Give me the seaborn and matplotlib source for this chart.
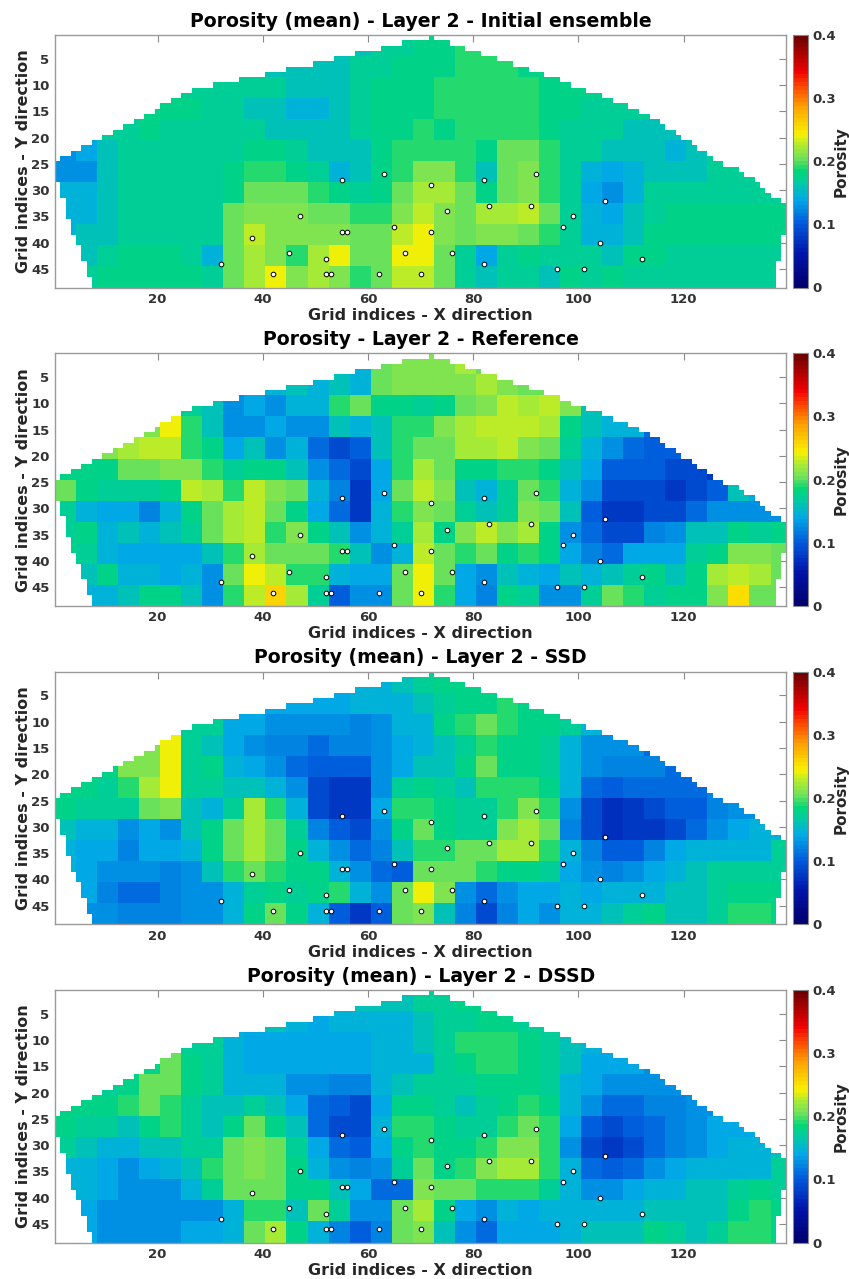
import numpy as np
import pandas as pd
import seaborn as sns
import matplotlib.pyplot as plt
from matplotlib.colors import LinearSegmentedColormap

# porosity x 100, one value per block of 4x4 grid cells (0 = outside the field)
initial = [
 [0,0,0,0,0,0,0,0,0,0,0,0,0,0,16,17,17,18,18,19,19,0,0,0,0,0,0,0,0,0,0,0,0,0,0],
 [0,0,0,0,0,0,0,0,0,0,16,16,16,16,17,17,18,18,18,19,19,19,18,18,0,0,0,0,0,0,0,0,0,0,0],
 [0,0,0,0,0,0,17,17,17,17,17,16,16,16,17,18,18,18,19,19,19,19,19,18,18,18,0,0,0,0,0,0,0,0,0],
 [0,0,0,0,18,18,18,17,17,16,16,15,15,16,17,18,18,18,19,19,19,19,19,18,18,17,17,17,17,0,0,0,0,0,0],
 [0,0,17,17,18,17,17,17,17,17,16,16,16,16,17,18,18,19,18,19,19,19,19,18,17,17,17,16,16,16,0,0,0,0,0],
 [13,14,16,17,17,17,17,17,17,18,18,17,16,16,16,18,19,19,19,19,18,20,20,19,17,17,16,16,16,15,16,17,0,0,0],
 [13,13,16,17,17,17,17,17,18,19,19,18,17,15,16,18,19,21,21,19,16,20,21,19,17,15,14,15,16,16,16,17,17,17,0],
 [15,15,16,17,17,17,17,17,18,20,20,20,19,18,17,18,20,22,22,20,18,20,21,19,17,14,13,15,17,17,17,17,17,17,17],
 [15,15,16,17,17,17,17,17,20,21,21,21,20,20,19,19,21,23,21,20,22,22,23,20,17,15,14,16,17,18,18,18,18,18,18],
 [15,16,16,17,17,17,17,17,20,23,21,21,21,21,20,20,23,24,21,20,21,21,20,19,17,15,15,16,18,18,18,18,18,18,18],
 [0,16,17,18,18,18,17,15,20,22,21,19,22,24,20,20,24,24,20,17,14,17,18,17,17,17,16,18,18,17,17,17,17,17,17],
 [0,17,18,18,18,18,18,17,20,22,24,21,22,21,19,20,23,23,20,17,16,17,17,16,18,17,18,17,17,17,17,17,17,17,17],
]
reference = [
 [0,0,0,0,0,0,0,0,0,0,0,0,0,0,15,20,21,21,21,22,20,0,0,0,0,0,0,0,0,0,0,0,0,0,0],
 [0,0,0,0,0,0,0,0,0,0,15,16,15,16,15,20,21,21,21,21,22,21,20,20,0,0,0,0,0,0,0,0,0,0,0],
 [0,0,0,0,0,0,17,16,13,14,13,15,15,19,20,18,18,17,18,20,21,23,22,23,21,16,0,0,0,0,0,0,0,0,0],
 [0,0,0,0,21,24,19,16,13,13,14,13,13,16,15,16,19,19,21,22,23,23,23,22,18,16,15,15,11,0,0,0,0,0,0],
 [0,0,21,22,23,23,19,18,14,16,13,15,11,9,10,16,19,20,20,22,22,23,21,20,17,15,13,11,10,10,0,0,0,0,0],
 [18,18,18,20,20,21,21,19,17,18,18,16,13,11,9,14,19,22,20,18,18,19,19,18,16,14,10,10,10,9,9,8,0,0,0],
 [20,18,17,17,17,18,23,22,19,23,21,20,15,12,8,14,20,23,21,16,15,17,20,19,15,13,9,9,9,8,9,10,16,14,0],
 [17,15,14,14,12,15,18,20,22,23,20,18,14,11,8,15,19,21,20,17,16,17,21,20,16,10,8,8,9,9,11,13,13,13,13],
 [17,18,15,16,15,16,17,20,22,23,19,21,18,16,13,15,17,22,18,21,23,21,22,18,13,11,9,9,12,13,16,16,18,17,18],
 [18,17,15,14,14,14,14,16,19,22,20,20,20,19,16,13,15,23,20,19,20,18,19,18,14,12,11,14,14,14,17,18,21,21,20],
 [0,16,18,15,15,14,15,13,20,24,23,19,19,15,14,14,20,24,20,14,13,16,15,14,16,15,16,17,18,16,18,22,23,22,20],
 [0,15,15,16,18,18,16,13,19,23,26,22,17,10,13,13,20,24,19,14,12,18,17,13,13,17,20,19,17,18,18,21,25,20,20],
]
ssd = [
 [0,0,0,0,0,0,0,0,0,0,0,0,0,0,15,15,16,17,18,18,18,0,0,0,0,0,0,0,0,0,0,0,0,0,0],
 [0,0,0,0,0,0,0,0,0,0,14,14,14,14,15,15,15,16,17,18,18,19,18,18,0,0,0,0,0,0,0,0,0,0,0],
 [0,0,0,0,0,0,17,17,14,14,13,13,13,13,12,13,15,15,18,19,20,19,18,18,17,15,0,0,0,0,0,0,0,0,0],
 [0,0,0,0,21,24,17,16,14,13,12,12,11,12,12,13,14,15,16,17,19,18,18,17,15,13,13,13,11,0,0,0,0,0,0],
 [0,0,18,21,21,24,17,18,15,14,13,11,10,10,10,13,14,16,16,18,20,18,18,17,15,13,12,12,12,11,0,0,0,0,0],
 [18,18,17,19,22,24,17,17,16,16,15,13,9,8,8,13,17,18,17,16,19,19,19,18,15,11,10,11,11,11,11,12,0,0,0],
 [18,17,17,17,20,21,16,15,17,22,19,15,9,8,8,14,19,19,18,17,17,19,21,19,13,9,7,8,9,10,10,12,13,13,0],
 [16,15,15,13,14,13,16,18,20,22,20,17,12,10,9,13,18,20,18,17,17,21,22,20,12,9,7,8,8,9,11,13,14,15,15],
 [15,14,14,12,14,14,15,18,20,22,20,18,15,13,11,12,16,19,19,20,20,22,22,19,15,12,10,10,12,14,15,15,15,15,17],
 [15,14,13,13,13,12,13,16,19,20,19,18,18,15,13,11,10,20,20,20,19,18,18,17,14,13,12,13,14,15,16,17,17,17,17],
 [0,14,12,11,11,12,13,13,15,17,18,17,18,19,15,13,20,24,21,13,11,13,14,14,15,14,15,15,15,16,16,17,18,18,18],
 [0,13,13,12,12,12,13,13,15,18,20,18,15,10,8,10,20,21,16,12,9,12,14,13,15,15,16,17,18,16,16,17,19,19,18],
]
dssd = [
 [0,0,0,0,0,0,0,0,0,0,0,0,0,0,16,16,16,17,17,18,18,0,0,0,0,0,0,0,0,0,0,0,0,0,0],
 [0,0,0,0,0,0,0,0,0,0,16,15,14,15,15,15,15,16,17,17,18,18,17,17,0,0,0,0,0,0,0,0,0,0,0],
 [0,0,0,0,0,0,17,17,15,14,14,14,14,14,14,15,15,16,17,19,19,19,18,17,16,15,0,0,0,0,0,0,0,0,0],
 [0,0,0,0,18,20,18,17,15,14,14,14,14,14,14,15,15,15,17,18,19,19,18,17,16,14,14,14,13,0,0,0,0,0,0],
 [0,0,17,18,20,20,18,17,15,15,15,13,13,12,12,15,16,17,17,17,18,18,18,17,15,14,13,13,13,13,0,0,0,0,0],
 [18,18,18,19,20,19,17,16,16,17,16,14,11,10,9,14,18,18,17,16,17,18,19,18,15,13,11,11,12,12,13,13,0,0,0],
 [18,17,17,16,18,19,17,16,18,20,18,16,11,9,9,15,19,19,18,17,17,19,20,19,14,10,9,10,11,12,13,14,14,14,0],
 [17,16,15,15,16,16,17,17,20,21,20,17,14,11,10,14,18,19,18,18,19,21,21,19,13,9,8,9,11,12,13,14,15,15,16],
 [15,15,14,13,14,15,16,19,20,21,20,18,15,13,12,13,17,20,18,19,21,22,22,19,15,11,10,11,13,14,15,15,15,15,17],
 [15,15,14,13,13,13,15,17,20,20,20,18,18,16,14,11,11,21,20,20,19,19,19,17,15,13,13,14,15,15,16,16,17,18,17],
 [0,14,13,13,13,13,13,13,15,19,19,16,20,17,13,13,20,22,18,14,13,15,14,15,15,15,15,15,16,16,16,16,18,19,18],
 [0,14,13,13,13,13,14,14,15,20,22,18,15,12,10,12,20,21,16,13,11,14,14,14,15,16,16,16,18,17,16,17,19,19,18],
]

# first and last row of the field in each of the 139 columns
top_row = [25,24,24,23,23,22,22,21,21,20, 20,19,19,18,18,17,17,16,16,15,
           14,14,13,13,12,12,11,11,11,11, 10,10,10,10,10,9,9,9,9,9,
           8,8,8,8,7,7,7,7,7,6, 6,6,6,5,5,5,5,4,4,4,
           4,4,3,3,3,3,2,2,2,2, 2,1,2,2,2,3,3,3,4,4,
           4,5,5,5,6,6,6,7,7,7, 8,8,8,9,9,9,10,10,11,11,
           11,12,12,12,13,13,14,14,14,15, 15,16,16,17,17,18,19,19,20,21,
           21,22,23,23,24,25,25,26,26,26, 27,28,28,29,30,31,32,32,33]
bottom_row = [28,31,35,38,40,43,46] + [48] * 130 + [43,38]

well_x = [32,38,42,45,47,52,52,53,55,55,56,62,63,65,67,70,72,72,75,76,82,82,83,91,92,96,97,99,101,104,105,112]
well_y = [44,39,46,42,35,43,46,46,28,38,38,46,27,37,42,46,29,38,34,42,28,44,33,33,27,45,37,35,45,40,32,43]

titles = ["Porosity (mean) - Layer 2 - Initial ensemble",
          "Porosity - Layer 2 - Reference",
          "Porosity (mean) - Layer 2 - SSD",
          "Porosity (mean) - Layer 2 - DSSD"]
panels = [initial, reference, ssd, dssd]
panel_tops = [35, 353.3, 671.7, 990]

stops = [(0.0, (0, 0, 110)), (0.13, (0, 20, 170)), (0.25, (0, 90, 220)), (0.35, (0, 170, 230)),
         (0.41, (0, 200, 170)), (0.46, (0, 215, 120)), (0.51, (110, 225, 90)), (0.56, (170, 235, 50)),
         (0.61, (250, 240, 0)), (0.72, (255, 160, 0)), (0.79, (255, 80, 0)), (0.86, (240, 0, 0)),
         (1.0, (110, 0, 0))]
por_cmap = LinearSegmentedColormap.from_list("por", [(s, tuple(c / 255 for c in rgb)) for s, rgb in stops], N=64)

sns.set_style("white")
plt.rcParams['font.family'] = ['DejaVu Sans']
plt.rcParams['font.weight'] = 'bold'

W, H = 849, 1279
fig = plt.figure(figsize=(W / 100, H / 100), dpi=100)

rows = np.arange(1, 49)[:, None]
outside = (rows < np.array(top_row)[None, :]) | (rows > np.array(bottom_row)[None, :])

for values, title, top in zip(panels, titles, panel_tops):
    ax = fig.add_axes([55 / W, 1 - (top + 252.5) / H, 731.3 / W, 252.5 / H])
    cax = fig.add_axes([793.3 / W, 1 - (top + 252.5) / H, 15 / W, 252.5 / H])
    blocks = np.array(values) / 100
    field = np.repeat(np.repeat(blocks, 4, axis=0), 4, axis=1)[:48, :139]
    df = pd.DataFrame(field, index=range(1, 49), columns=range(1, 140))
    sns.heatmap(df, mask=outside, cmap=por_cmap, vmin=0, vmax=0.4, ax=ax, cbar_ax=cax,
                xticklabels=False, yticklabels=False, linewidths=0,
                cbar_kws={"ticks": [0, 0.1, 0.2, 0.3, 0.4]})
    sns.scatterplot(x=np.array(well_x) - 0.5, y=np.array(well_y) - 0.5, ax=ax, s=11, color="white",
                    edgecolor="black", linewidth=0.7, legend=False, zorder=5)
    ax.set_xlim(0, 139)
    ax.set_ylim(48, 0)
    ax.set_xticks(np.arange(20, 121, 20) - 0.5)
    ax.set_xticklabels(np.arange(20, 121, 20))
    ax.set_yticks(np.arange(5, 46, 5) - 0.5)
    ax.set_yticklabels(np.arange(5, 46, 5), rotation=0)
    ax.tick_params(direction="in", top=True, right=True, length=5, width=0.8, color="#8a8a8a",
                   labelsize=9.5, labelcolor="#333333", pad=4)
    for s in ax.spines.values():
        s.set_visible(True)
        s.set_color("#9a9a9a")
        s.set_linewidth(1.0)
    ax.set_title(title, fontsize=13.6, fontweight="bold", color="black", pad=6)
    ax.set_xlabel("")
    ax.set_ylabel("")
    fig.text(420.5 / W, 1 - (top + 252.5 + 28) / H, "Grid indices - X direction", fontsize=11.5,
             fontweight="bold", color="#262626", ha="center", va="center")
    fig.text(23.5 / W, 1 - (top + 126.5) / H, "Grid indices - Y direction", fontsize=11.5,
             fontweight="bold", color="#262626", ha="center", va="center", rotation=90)
    fig.text(841.5 / W, 1 - (top + 126.5) / H, "Porosity", fontsize=11,
             fontweight="bold", color="#262626", ha="center", va="center", rotation=90)
    cb = ax.collections[0].colorbar
    cb.outline.set_visible(True)
    cb.outline.set_edgecolor("#8a8a8a")
    cb.outline.set_linewidth(0.8)
    cb.ax.tick_params(length=2, width=0.8, labelsize=9.5, labelcolor="#333333", color="#333333", pad=3, direction="in")
    cb.ax.set_yticklabels(["0", "0.1", "0.2", "0.3", "0.4"])

fig.savefig("out.png", dpi=100)
